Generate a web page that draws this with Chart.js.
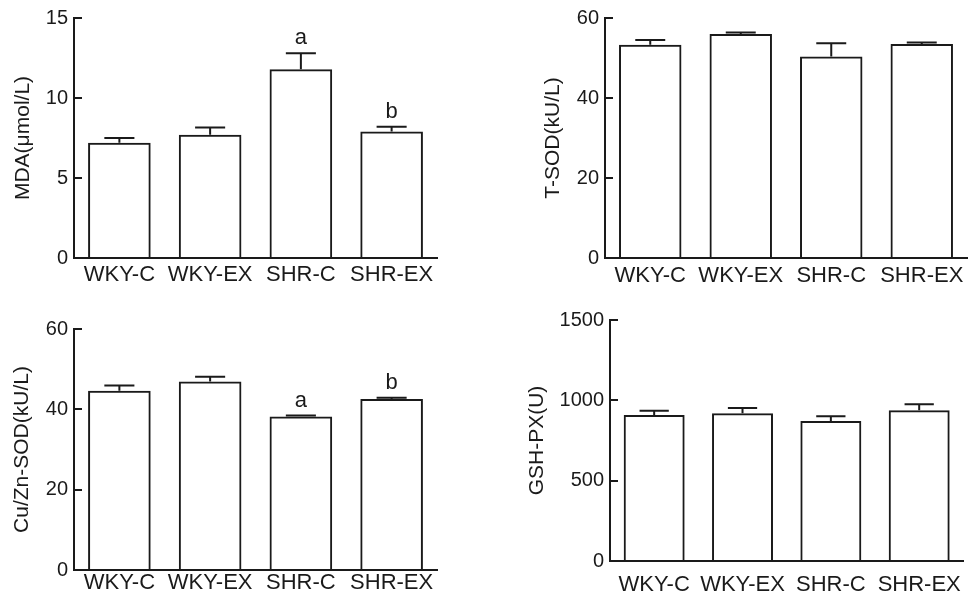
<!DOCTYPE html>
<html>
<head>
<meta charset="utf-8">
<script src="https://cdn.jsdelivr.net/npm/chart.js@4.4.1/dist/chart.umd.min.js"></script>
<style>
  html, body { margin: 0; padding: 0; background: #fff; overflow: hidden; }
  #wrap { position: relative; width: 969px; height: 597px; overflow: hidden; }
  canvas { position: absolute; }
</style>
</head>
<body>
<div id="wrap">
  <canvas id="c1" width="484" height="298" style="left:0;top:0"></canvas>
  <canvas id="c2" width="485" height="298" style="left:484px;top:0"></canvas>
  <canvas id="c3" width="484" height="299" style="left:0;top:298px"></canvas>
  <canvas id="c4" width="488" height="299" style="left:484px;top:298px"></canvas>
</div>
<script>
var groups = ['WKY-C', 'WKY-EX', 'SHR-C', 'SHR-EX'];

var mda = [7.2, 7.7, 11.8, 7.9];
var mdaErr = [0.3, 0.45, 1.0, 0.3];
var mdaSig = ['', '', 'a', 'b'];

var tsod = [53.3, 56.0, 50.4, 53.5];
var tsodErr = [1.2, 0.4, 3.3, 0.35];
var tsodSig = ['', '', '', ''];

var cuzn = [44.6, 46.9, 38.2, 42.6];
var cuznErr = [1.35, 1.2, 0.25, 0.3];
var cuznSig = ['', '', 'a', 'b'];

var gsh = [908, 920, 872, 939];
var gshErr = [27, 33, 29, 37];
var gshSig = ['', '', '', ''];

var INK = '#1a1a1a';
var FONT = "'Liberation Sans', Arial, Helvetica, sans-serif";

// inward y ticks, upper error bars and letters above them
function marks(values, errors, letters) {
  return {
    id: 'marks',
    afterDatasetsDraw: function (chart) {
      var ctx = chart.ctx, y = chart.scales.y, area = chart.chartArea;
      ctx.save();
      ctx.strokeStyle = INK;
      ctx.fillStyle = INK;
      ctx.lineWidth = 2;
      y.ticks.forEach(function (t) {
        var py = Math.round(y.getPixelForValue(t.value));
        ctx.beginPath();
        ctx.moveTo(area.left, py);
        ctx.lineTo(area.left + 8, py);
        ctx.stroke();
      });
      ctx.font = '22px ' + FONT;
      ctx.textAlign = 'center';
      ctx.textBaseline = 'alphabetic';
      chart.getDatasetMeta(0).data.forEach(function (bar, i) {
        var top = y.getPixelForValue(values[i] + errors[i]);
        var half = bar.width * 0.24;
        ctx.beginPath();
        ctx.moveTo(bar.x, bar.y);
        ctx.lineTo(bar.x, top);
        ctx.moveTo(bar.x - half, top);
        ctx.lineTo(bar.x + half, top);
        ctx.stroke();
        if (letters[i]) ctx.fillText(letters[i], bar.x, top - 9);
      });
      ctx.restore();
    }
  };
}

function panel(id, values, errors, letters, title, max, step, p) {
  return new Chart(document.getElementById(id), {
    type: 'bar',
    data: {
      labels: groups,
      datasets: [{
        data: values,
        backgroundColor: 'rgba(255,255,255,0)',
        borderColor: INK,
        borderWidth: 2,
        barPercentage: 0.69,
        categoryPercentage: 1
      }]
    },
    options: {
      responsive: false,
      animation: false,
      layout: { padding: { left: 0, top: p.top, right: p.right, bottom: 0 } },
      plugins: { legend: { display: false }, tooltip: { enabled: false } },
      scales: {
        x: {
          grid: { display: false, drawTicks: false },
          border: { display: true, color: INK, width: 2 },
          ticks: { color: INK, font: { family: FONT, size: 22 }, padding: p.xPad, maxRotation: 0, autoSkip: false },
          afterFit: function (s) { s.height = p.xHeight; }
        },
        y: {
          min: 0,
          max: max,
          grid: { display: false, drawTicks: false },
          border: { display: true, color: INK, width: 2 },
          ticks: {
            stepSize: step, color: INK, font: { family: FONT, size: 20 }, padding: 6,
            format: { useGrouping: false }
          },
          title: {
            display: true, text: title, color: INK,
            font: { family: FONT, size: 21 },
            padding: { top: p.titlePad, bottom: 0 }
          },
          afterFit: function (s) { s.width = p.yWidth; }
        }
      }
    },
    plugins: [marks(values, errors, letters)]
  });
}

panel('c1', mda, mdaErr, mdaSig, 'MDA(\u03bcmol/L)', 15, 5,
  { top: 16, right: 47, yWidth: 74, xHeight: 40, titlePad: 11, xPad: 4 });
panel('c2', tsod, tsodErr, tsodSig, 'T-SOD(kU/L)', 60, 20,
  { top: 16, right: 2, yWidth: 121, xHeight: 40, titlePad: 57, xPad: 5 });
panel('c3', cuzn, cuznErr, cuznSig, 'Cu/Zn-SOD(kU/L)', 60, 20,
  { top: 31, right: 47, yWidth: 74, xHeight: 27, titlePad: 10, xPad: 0 });
panel('c4', gsh, gshErr, gshSig, 'GSH-PX(U)', 1500, 500,
  { top: 22, right: 2, yWidth: 126, xHeight: 36, titlePad: 41, xPad: 11 });
</script>
</body>
</html>
